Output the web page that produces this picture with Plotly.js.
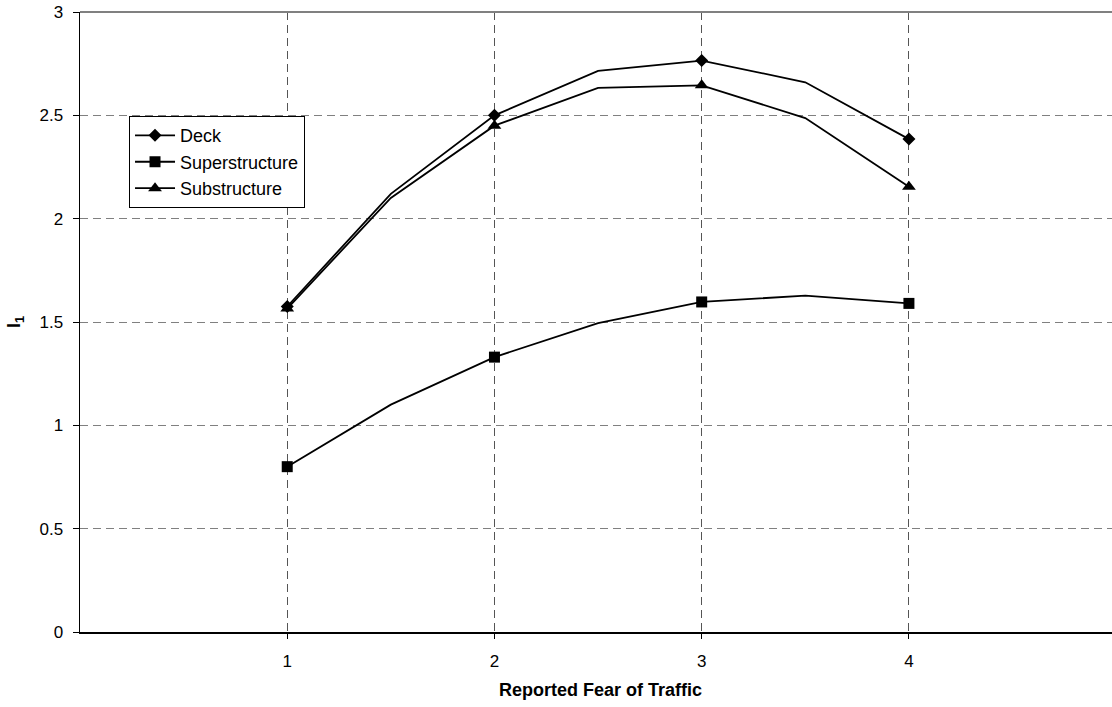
<!DOCTYPE html>
<html>
<head>
<meta charset="utf-8">
<script src="https://cdn.plot.ly/plotly-3.0.1.min.js"></script>
<style>
  html, body { margin: 0; padding: 0; background: #fff; }
  #chart { width: 1112px; height: 707px; }
</style>
</head>
<body>
<div id="chart"></div>
<script>
// ---- data ----
const fear = [1, 1.5, 2, 2.5, 3, 3.5, 4];
const deck = [1.575, 2.12, 2.50, 2.715, 2.765, 2.66, 2.385];
const superstructure = [0.80, 1.10, 1.33, 1.495, 1.597, 1.628, 1.59];
const substructure = [1.565, 2.10, 2.45, 2.633, 2.645, 2.487, 2.155];
const xTicks = [1, 2, 3, 4];
const yTicks = [0, 0.5, 1, 1.5, 2, 2.5, 3];
const seriesNames = ['Deck', 'Superstructure', 'Substructure'];

// markers appear only at the integer categories
const markerColors = fear.map(v => Number.isInteger(v) ? '#000000' : 'rgba(0,0,0,0)');

function mkTrace(name, y, symbol, size, group) {
  return {
    type: 'scatter',
    mode: 'lines+markers',
    name: name,
    x: fear,
    y: y,
    legendgroup: group,
    line: { color: '#000000', width: 1.8 },
    marker: { symbol: symbol, size: size, color: markerColors, line: { width: 0 } }
  };
}

const data = [
  mkTrace(seriesNames[0], deck, 'diamond', 10, 'g1'),
  mkTrace(seriesNames[1], superstructure, 'square', 11, 'g2'),
  mkTrace(seriesNames[2], substructure, 'triangle-up', 12, 'g3')
];

const font = 'Liberation Sans, Arial, sans-serif';

const layout = {
  width: 1112,
  height: 707,
  margin: { l: 80, r: 0, t: 12, b: 75 },
  paper_bgcolor: '#ffffff',
  plot_bgcolor: '#ffffff',
  font: { family: font, size: 17, color: '#000000' },
  showlegend: true,
  legend: {
    x: 0.0475, y: 0.832, xanchor: 'left', yanchor: 'top',
    bgcolor: '#ffffff', bordercolor: '#000000', borderwidth: 1,
    font: { family: font, size: 18, color: '#000000' },
    traceorder: 'grouped', tracegroupgap: 0,
    itemwidth: 40
  },
  xaxis: {
    range: [0, 4.98],
    tickmode: 'array',
    tickvals: xTicks,
    ticktext: xTicks.map(String),
    ticks: 'outside', ticklen: 5, tickcolor: '#000000', tickwidth: 1,
    ticklabelstandoff: 8,
    showline: true, linecolor: '#000000', linewidth: 1.5,
    showgrid: true, gridcolor: '#555555', gridwidth: 1, griddash: '8px,5px',
    zeroline: false,
    tickfont: { family: font, size: 17, color: '#000000' }
  },
  yaxis: {
    range: [0, 3],
    tickmode: 'array',
    tickvals: yTicks,
    ticktext: yTicks.map(String),
    ticks: 'outside', ticklen: 6, tickcolor: '#000000', tickwidth: 1,
    ticklabelstandoff: 6,
    showline: true, linecolor: '#000000', linewidth: 1.5,
    showgrid: true, gridcolor: '#808080', gridwidth: 1, griddash: '8px,5px',
    zeroline: false,
    tickfont: { family: font, size: 17, color: '#000000' }
  },
  shapes: [
    { type: 'line', xref: 'paper', yref: 'paper', x0: 0, x1: 1, y0: 1, y1: 1,
      line: { color: '#808080', width: 2 } }
  ],
  annotations: [
    { text: '<b>Reported Fear of Traffic</b>', xref: 'paper', yref: 'paper',
      x: 0.504, y: -0.094, xanchor: 'center', yanchor: 'middle', showarrow: false,
      font: { family: font, size: 18, color: '#000000' } },
    { text: '<b>I<sub>1</sub></b>', xref: 'paper', yref: 'paper',
      x: -0.063, y: 0.5, xanchor: 'center', yanchor: 'middle', showarrow: false,
      textangle: -90,
      font: { family: font, size: 18, color: '#000000' } }
  ]
};

Plotly.newPlot('chart', data, layout, { displayModeBar: false, staticPlot: true });
</script>
</body>
</html>
